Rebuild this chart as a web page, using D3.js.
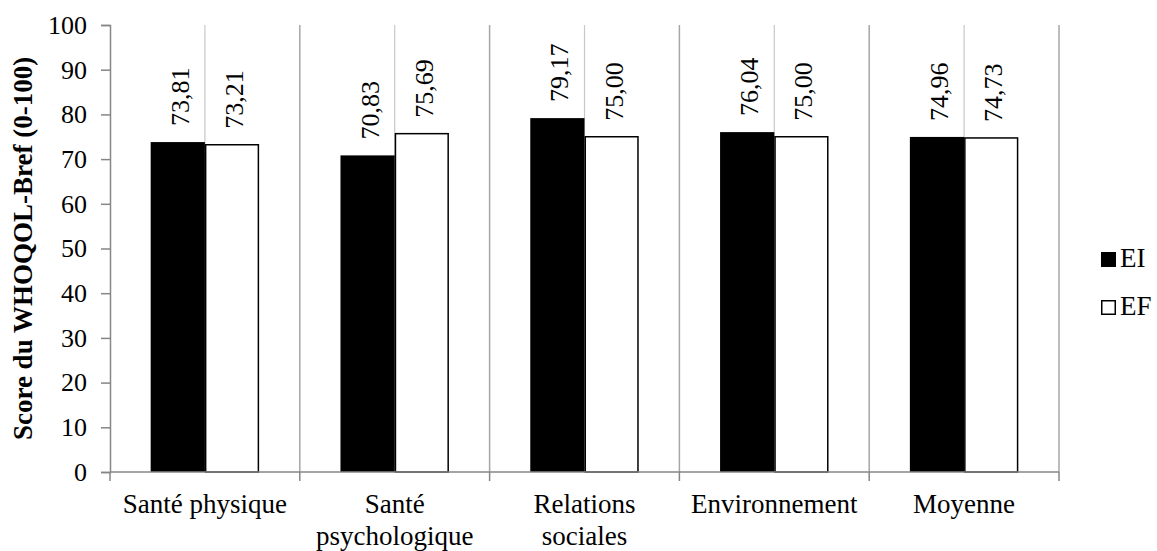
<!DOCTYPE html>
<html>
<head>
<meta charset="utf-8">
<script src="https://cdn.jsdelivr.net/npm/d3@7"></script>
<style>
    body { margin: 0; background: #fff; }
    svg text { font-family: "Liberation Serif", Tinos, "Times New Roman", Times, "DejaVu Serif", serif; fill: #000; }
</style>
</head>
<body>
<svg id="chart" width="1157" height="551"></svg>
<script>

const categories = [["Santé physique"], ["Santé", "psychologique"], ["Relations", "sociales"], ["Environnement"], ["Moyenne"]];
const seriesNames = ["EI", "EF"];
const valuesEI = [73.81, 70.83, 79.17, 76.04, 74.96];
const valuesEF = [73.21, 75.69, 75.00, 75.00, 74.73];
const yTicks = [0, 10, 20, 30, 40, 50, 60, 70, 80, 90, 100];

const svg = d3.select("#chart");
const margin = { top: 25, right: 98, bottom: 79, left: 110 };
const width = +svg.attr("width") - margin.left - margin.right;
const height = +svg.attr("height") - margin.top - margin.bottom;
const chartArea = svg.append("g").attr("transform", `translate(${margin.left},${margin.top})`);

const catKeys = categories.map(c => c.join(" "));

// scales
const x0 = d3.scaleBand().domain(catKeys).range([0, width]).paddingInner(0).paddingOuter(0);
const x1 = d3.scaleBand().domain(seriesNames).range([0, x0.bandwidth()]).paddingInner(0).paddingOuter(0.75);
const yScale = d3.scaleLinear().domain([0, 100]).range([height, 0]);

// vertical gridlines: category boundaries (darker) and centres (lighter)
const boundaries = catKeys.map(k => x0(k)).concat([width]);
chartArea.selectAll(".grid-major")
    .data(boundaries.slice(1))
    .enter().append("line")
    .attr("x1", d => d).attr("x2", d => d)
    .attr("y1", 0).attr("y2", height)
    .attr("stroke", "#a6a6a6").attr("stroke-width", 1.5);

chartArea.selectAll(".grid-minor")
    .data(catKeys)
    .enter().append("line")
    .attr("x1", d => x0(d) + x0.bandwidth() / 2).attr("x2", d => x0(d) + x0.bandwidth() / 2)
    .attr("y1", 0).attr("y2", height)
    .attr("stroke", "#c8c8c8").attr("stroke-width", 1.2);

// bars
const rows = catKeys.map((k, i) => ({ key: k, EI: valuesEI[i], EF: valuesEF[i] }));

rows.forEach(row => {
    seriesNames.forEach(s => {
        const isEI = s === "EI";
        const bx = x0(row.key) + x1(s);
        chartArea.append("rect")
            .attr("x", isEI ? bx : bx + 0.75)
            .attr("y", yScale(row[s]))
            .attr("width", isEI ? x1.bandwidth() : x1.bandwidth() - 1.5)
            .attr("height", height - yScale(row[s]))
            .attr("fill", isEI ? "#000" : "#fff")
            .attr("stroke", isEI ? "none" : "#000")
            .attr("stroke-width", 1.5);

        // value label, rotated
        const lx = bx + x1.bandwidth() / 2;
        const ly = yScale(row[s]) - 16;
        chartArea.append("text")
            .attr("transform", `translate(${lx + 11},${ly}) rotate(-90)`)
            .attr("text-anchor", "start")
            .style("font-size", "26px")
            .text(row[s].toFixed(2).replace(".", ","));
    });
});

// y axis
const yAxis = d3.axisLeft(yScale).tickValues(yTicks).tickSize(9).tickPadding(14).tickFormat(d3.format("d"));
const yg = chartArea.append("g").call(yAxis).attr("font-family", null);
yg.select(".domain").attr("stroke", "#868686").attr("stroke-width", 1.5);
yg.selectAll(".tick line").attr("stroke", "#868686").attr("stroke-width", 1.5);
yg.selectAll(".tick text").style("font-size", "26px");

// x axis line with tick marks at boundaries
chartArea.append("line")
    .attr("x1", 0).attr("x2", width)
    .attr("y1", height).attr("y2", height)
    .attr("stroke", "#868686").attr("stroke-width", 1.5);

chartArea.selectAll(".xtick")
    .data(boundaries)
    .enter().append("line")
    .attr("x1", d => d).attr("x2", d => d)
    .attr("y1", height).attr("y2", height + 9)
    .attr("stroke", "#868686").attr("stroke-width", 1.5);

// category labels
categories.forEach((lines, i) => {
    const t = chartArea.append("text")
        .attr("x", x0(catKeys[i]) + x0.bandwidth() / 2)
        .attr("y", height + 41)
        .attr("text-anchor", "middle")
        .style("font-size", "27px");
    lines.forEach((ln, j) => {
        t.append("tspan")
            .attr("x", x0(catKeys[i]) + x0.bandwidth() / 2)
            .attr("dy", j === 0 ? 0 : 32)
            .text(ln);
    });
});

// y axis title
svg.append("text")
    .attr("transform", `translate(32,${margin.top + height / 2}) rotate(-90)`)
    .attr("text-anchor", "middle")
    .style("font-size", "27px")
    .style("font-weight", "bold")
    .text("Score du WHOQOL-Bref (0-100)");

// legend
const legend = svg.append("g").attr("transform", "translate(1101,252)");
seriesNames.forEach((s, i) => {
    const g = legend.append("g").attr("transform", `translate(0,${i * 48})`);
    g.append("rect")
        .attr("x", s === "EI" ? 0 : 0.75).attr("y", s === "EI" ? 0 : 0.75)
        .attr("width", s === "EI" ? 15 : 13.5).attr("height", s === "EI" ? 15 : 13.5)
        .attr("fill", s === "EI" ? "#000" : "#fff")
        .attr("stroke", s === "EI" ? "none" : "#000")
        .attr("stroke-width", 1.5);
    g.append("text")
        .attr("x", 19).attr("y", 15)
        .style("font-size", "27px")
        .text(s);
});
</script>
</body>
</html>
